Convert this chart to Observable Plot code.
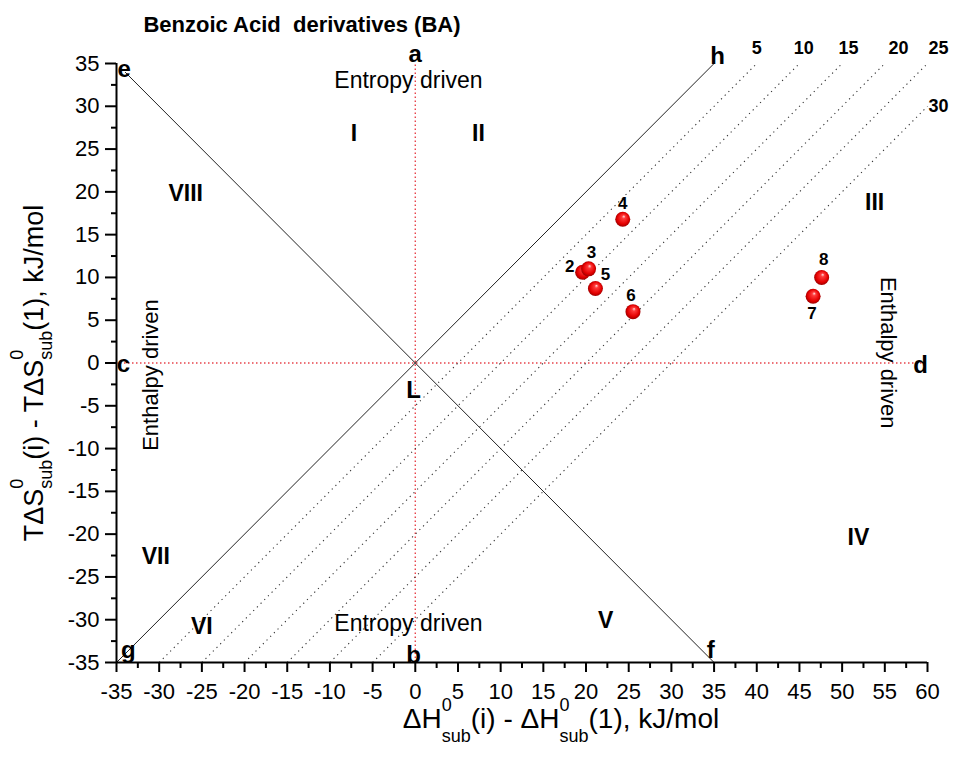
<!DOCTYPE html>
<html>
<head>
<meta charset="utf-8">
<script src="https://cdn.jsdelivr.net/npm/d3@7"></script>
<script src="https://cdn.jsdelivr.net/npm/@observablehq/plot@0.6"></script>
<style>
  body { margin: 0; background: #fff; }
  svg { display: block; }
</style>
</head>
<body>
<div id="chart"></div>
<script>
// Benzoic acid derivatives: enthalpy vs entropy contributions relative to compound 1
const compounds = ["2", "3", "4", "5", "6", "7", "8"];
const dH = [19.6, 20.3, 24.3, 21.1, 25.5, 46.6, 47.6];   // ΔH(i) - ΔH(1), kJ/mol
const TdS = [10.6, 11.0, 16.8, 8.7, 6.0, 7.8, 10.0];     // TΔS(i) - TΔS(1), kJ/mol

// Constant ΔG offsets for the dotted iso-lines (y = x - k)
const isoOffsets = [5, 10, 15, 20, 25, 30];

// Axis ticks
const xTicks = [-35, -30, -25, -20, -15, -10, -5, 0, 5, 10, 15, 20, 25, 30, 35, 40, 45, 50, 55, 60];
const yTicks = [-35, -30, -25, -20, -15, -10, -5, 0, 5, 10, 15, 20, 25, 30, 35];

// Region numerals and where they sit (data units)
const regionNames = ["I", "II", "III", "IV", "V", "VI", "VII", "VIII"];
const regionX = [-7.2, 7.4, 53.8, 51.9, 22.3, -25.0, -30.4, -26.9];
const regionY = [26.8, 26.8, 18.8, -20.4, -30.1, -30.8, -22.6, 19.8];

// Point letters (data units)
const letterNames = ["a", "b", "c", "d", "e", "f", "g", "h", "L"];
const letterX = [0.0, -0.2, -34.2, 59.2, -34.1, 34.6, -33.6, 35.4, -0.2];
const letterY = [36.05, -34.2, -0.2, -0.3, 34.3, -33.6, -33.6, 35.8, -3.2];

const xDomain = [-35, 60];
const yDomain = [-35, 35];

// Point-label nudges in pixels
const labelNudge = {
  "2": [-13, -6], "3": [3, -16], "4": [0, -16], "5": [10, -14],
  "6": [-2, -16], "7": [-1, 17], "8": [2, -18]
};
// Iso-line label nudges (data units beyond the line's end)
const isoNudge = [[0, 1.75], [0.5, 1.75], [0.75, 1.75], [1.6, 1.75], [1.3, 1.75], [1.3, 0]];

const points = compounds.map((c, i) => ({c, x: dH[i], y: TdS[i]}));

const isoLines = isoOffsets.map((k, i) => {
  const x1 = yDomain[0] + k, y1 = yDomain[0];
  const x2 = Math.min(xDomain[1], yDomain[1] + k), y2 = x2 - k;
  return {k, x1, y1, x2, y2, lx: x2 + isoNudge[i][0], ly: y2 + isoNudge[i][1]};
});

const diagonals = [
  {x1: -34, y1: 34, x2: 35, y2: -35},   // e–f : ΔH = -TΔS
  {x1: -35, y1: -35, x2: 35, y2: 35}    // g–h : ΔH = TΔS
];

const regions = regionNames.map((t, i) => ({t, x: regionX[i], y: regionY[i]}));
const letters = letterNames.map((t, i) => ({t, x: letterX[i], y: letterY[i]}));

const minorX = d3.range(-32.5, 60, 5);
const minorY = d3.range(-32.5, 35, 5);

const red = "#e8434b";
const font = "Arial, 'Liberation Sans', sans-serif";

const plot = Plot.plot({
  width: 954,
  height: 758,
  marginLeft: 116,
  marginRight: 27,
  marginTop: 63,
  marginBottom: 96,
  style: {fontFamily: font, fontSize: "22px", color: "black", background: "white", overflow: "visible"},
  x: {domain: xDomain, axis: null},
  y: {domain: yDomain, axis: null},
  marks: [
    // red dotted zero lines
    Plot.ruleX([0], {y1: yDomain[0], y2: yDomain[1], stroke: red, strokeWidth: 1.4, strokeDasharray: "1.5,2.5"}),
    Plot.ruleY([0], {x1: xDomain[0], x2: xDomain[1], stroke: red, strokeWidth: 1.4, strokeDasharray: "1.5,2.5"}),
    // dotted iso-lines
    Plot.link(isoLines, {x1: "x1", y1: "y1", x2: "x2", y2: "y2", stroke: "#333", strokeWidth: 1.1, strokeDasharray: "1.2,4"}),
    Plot.text(isoLines, {x: "lx", y: "ly", text: d => String(d.k), fontSize: 18, fontWeight: "bold"}),
    // diagonal boundaries
    Plot.link(diagonals, {x1: "x1", y1: "y1", x2: "x2", y2: "y2", stroke: "#222", strokeWidth: 1}),
    // axis lines
    Plot.ruleY([yDomain[0]], {x1: xDomain[0], x2: xDomain[1], stroke: "black", strokeWidth: 2}),
    Plot.ruleX([xDomain[0]], {y1: yDomain[0], y2: yDomain[1], stroke: "black", strokeWidth: 2}),
    Plot.axisX(xTicks, {anchor: "bottom", tickSize: 10, tickPadding: 11, fontSize: 22, strokeWidth: 2, label: null, tickFormat: d => String(d)}),
    Plot.axisX(minorX, {anchor: "bottom", tickSize: 6, strokeWidth: 2, label: null, tickFormat: () => ""}),
    Plot.axisY(yTicks, {anchor: "left", tickSize: 11, tickPadding: 6, fontSize: 22, strokeWidth: 2, label: null, tickFormat: d => String(d)}),
    Plot.axisY(minorY, {anchor: "left", tickSize: 5, strokeWidth: 2, label: null, tickFormat: () => ""}),
    // driving-force annotations
    Plot.text(["Entropy driven"], {x: -0.8, y: 33.0, text: d => d, fontSize: 23}),
    Plot.text(["Entropy driven"], {x: -0.8, y: -30.4, text: d => d, fontSize: 23}),
    Plot.text(["Enthalpy driven"], {x: -31.0, y: -1.4, text: d => d, fontSize: 22, rotate: -90}),
    Plot.text(["Enthalpy driven"], {x: 55.4, y: 1.2, text: d => d, fontSize: 22, rotate: 90}),
    // region numerals and letters
    Plot.text(regions, {x: "x", y: "y", text: "t", fontSize: 23, fontWeight: "bold"}),
    Plot.text(letters, {x: "x", y: "y", text: "t", fontSize: 24, fontWeight: "bold"}),
    // compounds
    Plot.dot(points, {x: "x", y: "y", r: 7.5, fill: "url(#sphere)", stroke: "none"}),
    ...points.map(p => Plot.text([p], {
      x: "x", y: "y", text: "c", fontSize: 17, fontWeight: "bold",
      dx: labelNudge[p.c][0], dy: labelNudge[p.c][1]
    }))
  ]
});

const svg = d3.select(plot);

// shaded sphere fill for the compound markers
const grad = svg.insert("defs", ":first-child")
  .append("radialGradient")
  .attr("id", "sphere")
  .attr("cx", "50%").attr("cy", "50%").attr("r", "55%")
  .attr("fx", "58%").attr("fy", "30%");
grad.append("stop").attr("offset", "0%").attr("stop-color", "#ffe0e0");
grad.append("stop").attr("offset", "22%").attr("stop-color", "#ff3a3a");
grad.append("stop").attr("offset", "70%").attr("stop-color", "#e30000");
grad.append("stop").attr("offset", "100%").attr("stop-color", "#8a0000");

// title
svg.append("text")
  .attr("x", 302).attr("y", 32)
  .attr("text-anchor", "middle")
  .attr("font-family", font)
  .attr("font-size", 22)
  .attr("font-weight", "bold")
  .attr("fill", "black")
  .attr("xml:space", "preserve")
  .text("Benzoic Acid  derivatives (BA)");

// axis title with stacked super/subscripts
function scripted(sel, parts, big, small, supDy, subDy, zeroW) {
  let back = 0;
  parts.forEach(p => {
    if (typeof p === "string") {
      sel.append("tspan").attr("font-size", big).attr("dy", back).text(p);
      back = 0;
    } else {
      sel.append("tspan").attr("font-size", small).attr("dy", supDy).text("0");
      sel.append("tspan").attr("font-size", small).attr("dx", -zeroW).attr("dy", subDy - supDy).text("sub");
      back = -subDy;
    }
  });
}

const xl = svg.append("text")
  .attr("x", 561).attr("y", 728)
  .attr("text-anchor", "middle")
  .attr("font-family", font)
  .attr("fill", "black");
scripted(xl, ["ΔH", 1, "(i) - ΔH", 1, "(1), kJ/mol"], 28, 18, -17, 14, 10);

const yl = svg.append("text")
  .attr("transform", "translate(43,373) rotate(-90)")
  .attr("text-anchor", "middle")
  .attr("font-family", font)
  .attr("fill", "black");
scripted(yl, ["TΔS", 1, "(i) - TΔS", 1, "(1), kJ/mol"], 27, 18, -20, 9, 10);

document.getElementById("chart").appendChild(plot);
</script>
</body>
</html>
